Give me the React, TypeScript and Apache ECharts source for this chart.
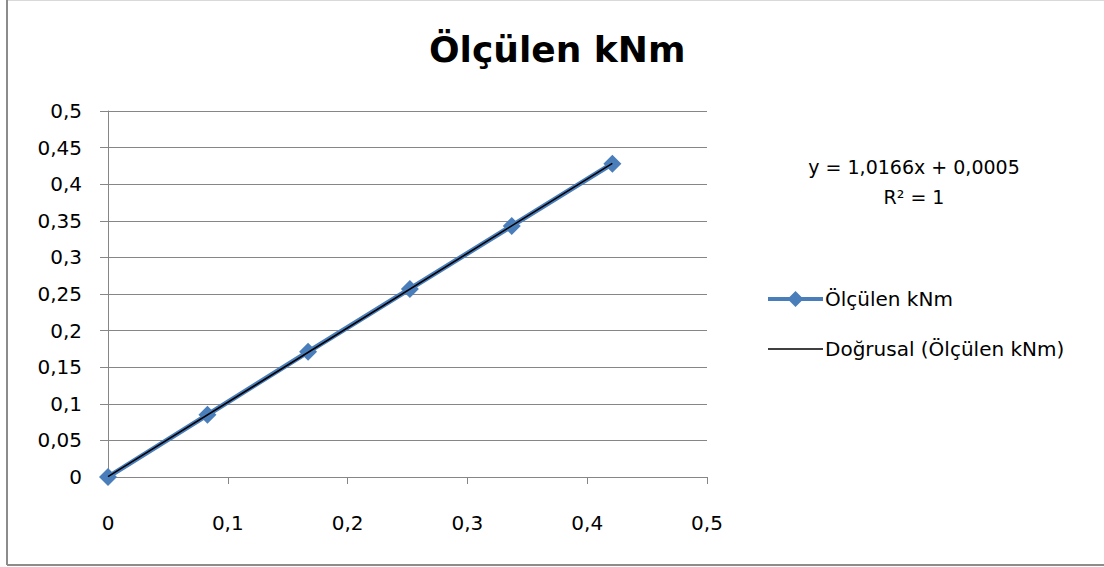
import React, { useEffect, useRef } from "react";
import * as echarts from "echarts";

const TITLE = "Ölçülen kNm";
const SERIES_NAME = "Ölçülen kNm";
const TREND_NAME = "Doğrusal (Ölçülen kNm)";
const xValues = [0, 0.083, 0.167, 0.252, 0.337, 0.421];
const yValues = [0, 0.085, 0.171, 0.257, 0.343, 0.428];
const trendSlope = 1.0166;
const trendIntercept = 0.0005;
const equationLines = ["y = 1,0166x + 0,0005", "R² = 1"];

const FONT = "DejaVu Sans";
const BLUE = "#4A7EBB";
const fmt = (v: number) => String(Math.round(v * 1000) / 1000).replace(".", ",");

const ICON_SERIES =
  "path://M0,6 L21.5,6 L27.5,0 L33.5,6 L55,6 L55,10 L33.5,10 L27.5,16 L21.5,10 L0,10 Z";
const ICON_TREND = "path://M0,0 L55,0 L55,1.5 L0,1.5 Z";

export default function App() {
  const ref = useRef<HTMLDivElement>(null);
  useEffect(() => {
    document.body.style.margin = "0";
    const chart = echarts.init(ref.current!, null, { renderer: "svg" });
    const data = xValues.map((x, i) => [x, yValues[i]]);
    const xMin = xValues[0];
    const xMax = xValues[xValues.length - 1];
    const trend = [
      [xMin, trendSlope * xMin + trendIntercept],
      [xMax, trendSlope * xMax + trendIntercept],
    ];
    chart.setOption({
      animation: false,
      backgroundColor: "#ffffff",
      title: {
        text: TITLE,
        left: 424,
        top: 26,
        textStyle: { fontFamily: FONT, fontWeight: "bold", fontSize: 36, color: "#000" },
      },
      grid: { left: 108, right: 397, top: 111, bottom: 90, containLabel: false },
      xAxis: {
        type: "value",
        min: 0,
        max: 0.5,
        interval: 0.1,
        axisLine: { show: true, lineStyle: { color: "#868686", width: 1 } },
        axisTick: { show: true, length: 7, lineStyle: { color: "#868686" } },
        splitLine: { show: false },
        axisLabel: { formatter: fmt, fontFamily: FONT, fontSize: 20, color: "#000", margin: 36 },
      },
      yAxis: {
        type: "value",
        min: 0,
        max: 0.5,
        interval: 0.05,
        axisLine: { show: true, lineStyle: { color: "#868686", width: 1 } },
        axisTick: { show: true, length: 8, lineStyle: { color: "#868686" } },
        splitLine: { show: true, lineStyle: { color: "#868686", width: 1 } },
        axisLabel: { formatter: fmt, fontFamily: FONT, fontSize: 20, color: "#000", margin: 26 },
      },
      legend: {
        orient: "vertical",
        left: 763,
        top: 284,
        itemWidth: 55,
        itemHeight: 16,
        itemGap: 30,
        textStyle: { fontFamily: FONT, fontSize: 20, color: "#000", padding: [0, 0, 0, -3] },
        data: [
          { name: SERIES_NAME, icon: ICON_SERIES },
          { name: TREND_NAME, icon: ICON_TREND },
        ],
      },
      series: [
        {
          name: SERIES_NAME,
          type: "line",
          data,
          symbol: "diamond",
          symbolSize: 18,
          color: BLUE,
          lineStyle: { width: 5, color: BLUE },
          itemStyle: { color: BLUE },
          z: 2,
        },
        {
          name: TREND_NAME,
          type: "line",
          data: trend,
          symbol: "none",
          color: "#000",
          lineStyle: { width: 1.6, color: "#000" },
          z: 3,
        },
      ],
      graphic: [
        {
          type: "text",
          x: 914,
          y: 167,
          style: {
            text: equationLines[0],
            align: "center",
            verticalAlign: "middle",
            fontFamily: FONT,
            fontSize: 19,
            fill: "#000",
          },
        },
        {
          type: "text",
          x: 914,
          y: 197,
          style: {
            text: equationLines[1],
            align: "center",
            verticalAlign: "middle",
            fontFamily: FONT,
            fontSize: 19,
            fill: "#000",
          },
        },
        { type: "line", shape: { x1: 7, y1: 0.5, x2: 1104, y2: 0.5 }, style: { stroke: "#d9d9d9", lineWidth: 1 } },
        { type: "line", shape: { x1: 7, y1: 0, x2: 7, y2: 565 }, style: { stroke: "#8c8c8c", lineWidth: 2 } },
        { type: "line", shape: { x1: 7, y1: 565, x2: 1104, y2: 565 }, style: { stroke: "#8c8c8c", lineWidth: 2 } },
      ],
    });
    return () => chart.dispose();
  }, []);
  return <div ref={ref} style={{ width: 1104, height: 567 }} />;
}
